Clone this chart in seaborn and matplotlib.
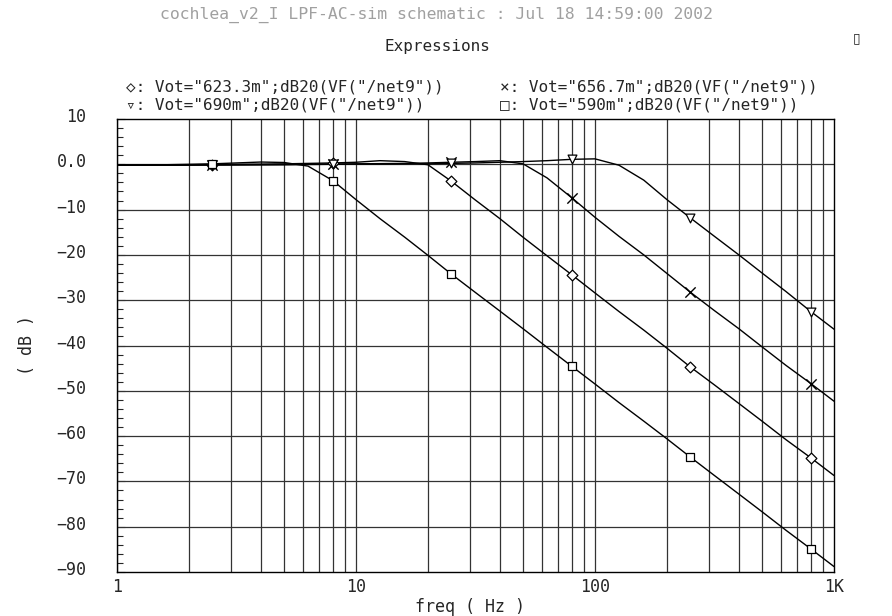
import matplotlib
matplotlib.use("Agg")
import matplotlib.pyplot as plt
from matplotlib.transforms import ScaledTranslation
import matplotlib.ticker as mticker
import pandas as pd
import seaborn as sns

# ---- data ----
freq = [1, 1.26, 1.58, 2, 2.5, 3.16, 4, 5, 6.3, 8, 10, 12.6, 16, 20, 25, 31.6,
        40, 50, 63, 80, 100, 126, 160, 200, 250, 316, 400, 500, 630, 800, 1000]
db_590 = [-0.2, -0.15, -0.1, 0.0, 0.1, 0.3, 0.5, 0.4, -0.4, -3.6, -7.8, -12.0, -16.1,
          -20.1, -24.2, -28.3, -32.4, -36.3, -40.4, -44.6, -48.5, -52.6, -56.7,
          -60.6, -64.6, -68.7, -72.8, -76.7, -80.8, -84.9, -88.8]
db_623 = [-0.2, -0.2, -0.15, -0.1, -0.05, 0.0, 0.05, 0.1, 0.2, 0.3, 0.45, 0.8, 0.6, -0.1,
          -3.7, -7.9, -12.0, -16.1, -20.2, -24.4, -28.4, -32.5, -36.6, -40.6,
          -44.7, -48.7, -52.8, -56.7, -60.8, -64.8, -68.7]
db_657 = [-0.2, -0.2, -0.2, -0.15, -0.15, -0.1, -0.1, -0.05, 0.0, 0.05, 0.1, 0.15, 0.2, 0.3,
          0.45, 0.6, 0.8, 0.1, -3.0, -7.4, -11.7, -15.9, -20.0, -24.1, -28.2,
          -32.3, -36.3, -40.3, -44.4, -48.4, -52.3]
db_690 = [-0.2, -0.2, -0.2, -0.2, -0.15, -0.15, -0.1, -0.1, -0.05, 0.0, 0.05, 0.05, 0.1, 0.1,
          0.2, 0.3, 0.45, 0.6, 0.8, 1.1, 1.2, -0.2, -3.5, -7.8, -11.8, -15.9,
          -20.0, -24.0, -28.1, -32.5, -36.4]
marker_freq = [2.5, 8, 25, 80, 250, 800]

series_names = ['Vot="623.3m"', 'Vot="656.7m"', 'Vot="690m"', 'Vot="590m"']
series_vals = [db_623, db_657, db_690, db_590]
series_markers = ['D', 'x', 'v', 's']
legend_syms = ['\u25c7', '\u00d7', '\u25bf', '\u25a1']

y_ticks = [10, 0, -10, -20, -30, -40, -50, -60, -70, -80, -90]
y_labels = ['10', '0.0', '\u221210', '\u221220', '\u221230', '\u221240', '\u221250',
            '\u221260', '\u221270', '\u221280', '\u221290']
x_ticks = [1, 10, 100, 1000]
x_labels = ['1', '10', '100', '1K']

frames = []
for name, vals in zip(series_names, series_vals):
    frames.append(pd.DataFrame({"freq": freq, "dB": vals, "series": name}))
df = pd.concat(frames, ignore_index=True)
dfm = df[df["freq"].isin(marker_freq)]

# ---- figure ----
sns.set_style("white")
FAM = ['DejaVu Sans Mono', 'DejaVu Sans']
plt.rcParams['font.family'] = FAM
fig = plt.figure(figsize=(8.92, 6.16), dpi=100)
W, H = 892, 616
ax = fig.add_axes([117 / W, 1 - 572 / H, (834 - 117) / W, (572 - 119) / H])

ax.set_xscale("log")
ax.set_xlim(1, 1000)
ax.set_ylim(-90, 10)

# grid
for dec in [1, 10, 100]:
    for k in range(1, 10):
        ax.axvline(dec * k, color="#333333", lw=0.9, zorder=1)
for yv in range(-80, 10, 10):
    ax.axhline(yv, color="#333333", lw=0.9, zorder=1)

sns.lineplot(data=df, x="freq", y="dB", hue="series", palette=["black"] * 4,
             legend=False, ax=ax, lw=1.0, zorder=3, estimator=None, sort=False)
for name, m in zip(series_names, series_markers):
    sub = dfm[dfm["series"] == name]
    if m == 'x':
        sns.scatterplot(data=sub, x="freq", y="dB", marker='x', color="black",
                        s=55, linewidth=1.0, ax=ax, zorder=4, legend=False)
    else:
        sns.scatterplot(data=sub, x="freq", y="dB", marker=m, facecolor="white",
                        edgecolor="black", s=40 if m != 'D' else 30, linewidth=0.9,
                        ax=ax, zorder=4, legend=False)

for sp in ax.spines.values():
    sp.set_color("black")
    sp.set_linewidth(1.0)

ax.set_xticks(x_ticks)
ax.set_xticklabels(x_labels)
ax.xaxis.set_minor_locator(mticker.NullLocator())
ax.set_yticks(y_ticks)
ax.set_yticklabels(y_labels)
ax.yaxis.set_minor_locator(mticker.MultipleLocator(2))
ax.tick_params(axis="y", which="major", direction="in", length=6, width=0.8,
               pad=22, labelsize=12, left=True)
ax.tick_params(axis="y", which="minor", direction="in", length=4, width=0.8, left=True)
ax.tick_params(axis="x", which="both", length=0, pad=4, labelsize=12)
for lab in ax.get_yticklabels():
    lab.set_transform(lab.get_transform() + ScaledTranslation(0, 0.04, fig.dpi_scale_trans))

ax.set_xlabel("freq ( Hz )", fontsize=12)
ax.xaxis.set_label_coords((470 - 117) / (834 - 117), -(607 - 572) / (572 - 119))
ax.xaxis.label.set_va("center")
ax.set_ylabel("( dB )", fontsize=12)
ax.yaxis.set_label_coords((27 - 117) / (834 - 117), (572 - 345) / (572 - 119))
ax.yaxis.label.set_va("center")

# header texts
fig.text(437 / W, 1 - 15 / H, "cochlea_v2_I LPF-AC-sim schematic : Jul 18 14:59:00 2002",
         ha="center", va="center", fontsize=11.8, color="#a0a0a0")
fig.text(437 / W, 1 - 47 / H, "Expressions", ha="center", va="center", fontsize=11.5)
fig.text(857 / W, 1 - 38 / H, "\u25af", ha="center", va="center", fontsize=10,
         family=['DejaVu Sans'])

# legend as text
leg_pos = [(126, 87), (500, 87), (126, 105), (500, 105)]
for (px, py), sym, name in zip(leg_pos, legend_syms, series_names):
    fig.text(px / W, 1 - py / H, f'{sym}: {name};dB20(VF("/net9"))',
             ha="left", va="center", fontsize=11.5)

fig.savefig("out.png", dpi=100)
